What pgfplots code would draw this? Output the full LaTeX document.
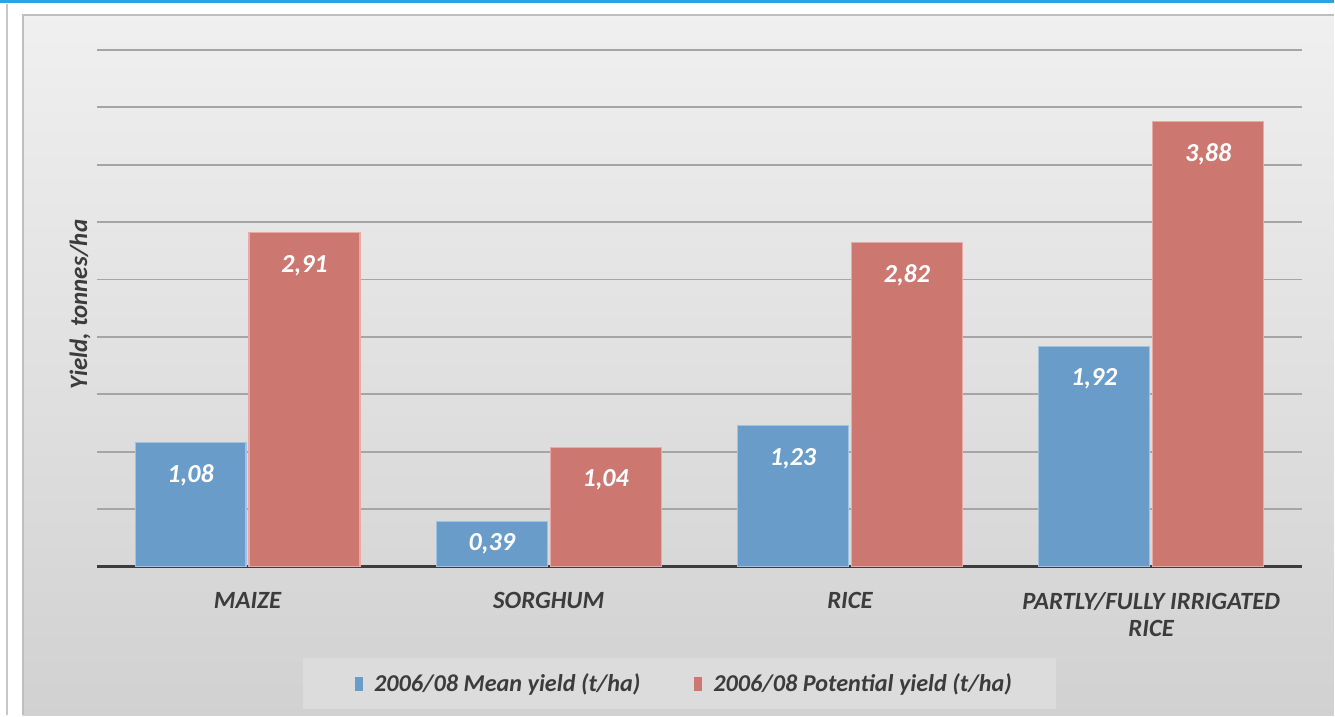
\documentclass[border=0pt]{standalone}
\usepackage{pgfplots}
\pgfplotsset{compat=1.18}
\usepackage{fontspec}
\setmainfont{Carlito}
\definecolor{barblue}{RGB}{106,156,201}
\definecolor{barred}{RGB}{205,119,113}
\definecolor{bluedge}{RGB}{160,195,228}
\definecolor{rededge}{RGB}{232,170,166}
\definecolor{txt}{RGB}{60,60,60}
\definecolor{topblue}{RGB}{39,165,222}
\definecolor{legbg}{RGB}{220,220,220}
\definecolor{gridc}{RGB}{165,165,165}
\begin{document}
\begin{tikzpicture}[x=1pt,y=1pt]
\fill[white] (0,0) rectangle (667.5,358);
\fill[topblue] (0,356.5) rectangle (667.5,358);
\draw[black!22, line width=1pt] (3.3,0) -- (3.3,356);
\shade[top color=black!6, bottom color=black!18] (11.5,0) rectangle (667.5,350.5);
\draw[black!25, line width=1.2pt] (11.5,0) -- (11.5,350.5) -- (667.5,350.5);
\fill[legbg] (151.5,3) rectangle (528.5,28.5);
\begin{axis}[
  at={(48.5pt,74.5pt)}, anchor=south west,
  scale only axis, width=603pt, height=258.5pt,
  xmin=-0.5, xmax=3.5, ymin=0, ymax=4.5,
  ybar=1.5pt, bar width=55.5pt,
  xtick={0,1,2,3},
  xticklabels={MAIZE, SORGHUM, RICE, {PARTLY/FULLY IRRIGATED\\RICE}},
  xticklabel style={align=center, text=txt, font=\bfseries\itshape\fontsize{12.4}{13.5}\selectfont, yshift=-9.5pt},
  ytick={0.5,1,...,4.5}, yticklabels={},
  ymajorgrids, grid style={gridc, line width=0.9pt},
  major tick length=0pt,
  axis x line*=bottom, axis y line*=left,
  x axis line style={txt, line width=1.6pt, -},
  y axis line style={draw=none},
  ylabel={Yield, tonnes/ha},
  ylabel style={at={(axis description cs:-0.0141,0.507)}, anchor=center, rotate=0, text=txt, font=\bfseries\itshape\fontsize{12.5}{14}\selectfont},
  /pgf/number format/.cd, fixed, fixed zerofill, precision=2, use comma, assume math mode=true,
  /pgfplots/.cd,
  nodes near coords,
  visualization depends on={rawy \as \rawy},
  every node near coord/.append style={anchor=center, text=white, font=\bfseries\itshape\fontsize{13}{14}\selectfont,
     yshift={-min(16.5,\rawy*28.75)*1pt}},
  legend style={at={(0.4885,-0.2273)}, anchor=center, fill=none, draw=none,
     legend columns=2, font=\bfseries\itshape\fontsize{12.1}{14}\selectfont, text=txt,
     /tikz/every even column/.append style={column sep=25pt}},
  legend image code/.code={\fill[#1,draw=none] (0pt,-3.5pt) rectangle (3.8pt,3.5pt); \path[draw=none,fill=none] (0pt,0pt) -- (7.5pt,0pt);},
]
\addplot[fill=barblue, draw=bluedge, line width=0.6pt] coordinates {(0,1.08) (1,0.39) (2,1.23) (3,1.92)};
\addplot[fill=barred, draw=rededge, line width=0.6pt] coordinates {(0,2.91) (1,1.04) (2,2.82) (3,3.88)};
\legend{2006/08 Mean yield (t/ha), 2006/08 Potential yield (t/ha)}
\end{axis}
\end{tikzpicture}
\end{document}
